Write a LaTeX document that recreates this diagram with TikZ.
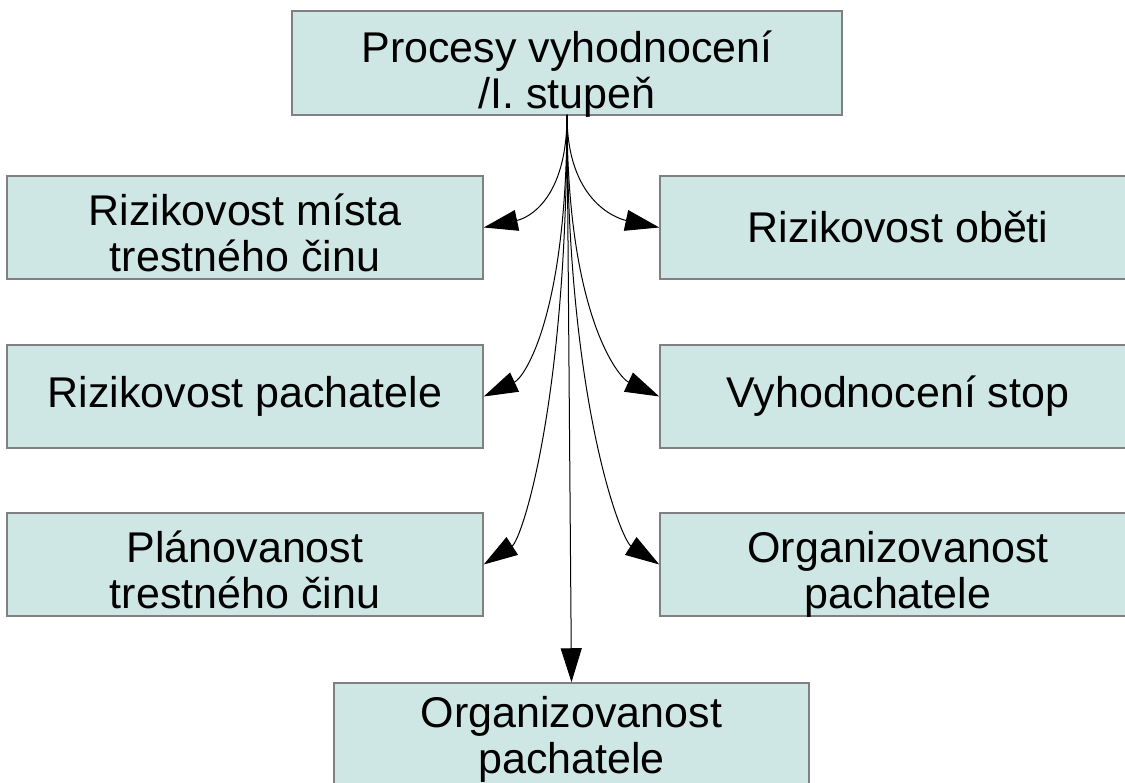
\documentclass[tikz,border=0pt]{standalone}
\usepackage{fontspec}
\setmainfont{Liberation Sans}
\usetikzlibrary{arrows.meta}
\definecolor{boxfill}{RGB}{207,231,228}
\definecolor{boxline}{RGB}{128,128,128}
\newcommand{\twolines}[3][42pt]{\rule{0pt}{#1}\smash{#2}\\\smash{#3}}
\begin{document}
\begin{tikzpicture}[x=1pt,y=1pt,
  box/.style={draw=boxline, line width=1.5pt, fill=boxfill, align=center,
    inner sep=0pt, minimum width=476pt, minimum height=103pt,
    font=\fontsize{43}{46}\selectfont},
  conn/.style={line width=1pt, -{Triangle[length=34pt,width=21pt]}}]
\useasboundingbox (0,0) rectangle (1125,783);
\node[box, minimum width=550pt, minimum height=104pt] (top) at (567,720) {\twolines[46pt]{Procesy vyhodnocení}{/I. stupeň}};
\node[box] (l1) at (245,555.5) {\twolines{Rizikovost místa}{trestného činu}};
\node[box] (l2) at (245,386.5) {Rizikovost pachatele};
\node[box] (l3) at (245,218.5) {\twolines{Plánovanost}{trestného činu}};
\node[box] (r1) at (898,555.5) {Rizikovost oběti};
\node[box] (r2) at (898,386.5) {Vyhodnocení stop};
\node[box] (r3) at (898,218.5) {\twolines{Organizovanost}{pachatele}};
\node[box, minimum width=475pt] (bot) at (571.5,48.5) {\twolines[33pt]{Organizovanost}{pachatele}};
\coordinate (s) at (567,668);
\draw[conn] (s) to[out=-90, in=12, out distance=85pt, in distance=45pt] (l1.east);
\draw[conn] (s) to[out=-90, in=25, out distance=200pt, in distance=45pt] (l2.east);
\draw[conn] (s) to[out=-90, in=33, out distance=290pt, in distance=45pt] (l3.east);
\draw[conn] (s) to[out=-90, in=168, out distance=85pt, in distance=45pt] (r1.west);
\draw[conn] (s) to[out=-90, in=155, out distance=200pt, in distance=45pt] (r2.west);
\draw[conn] (s) to[out=-90, in=147, out distance=290pt, in distance=45pt] (r3.west);
\draw[conn] (s) -- (bot.north);
\end{tikzpicture}
\end{document}
